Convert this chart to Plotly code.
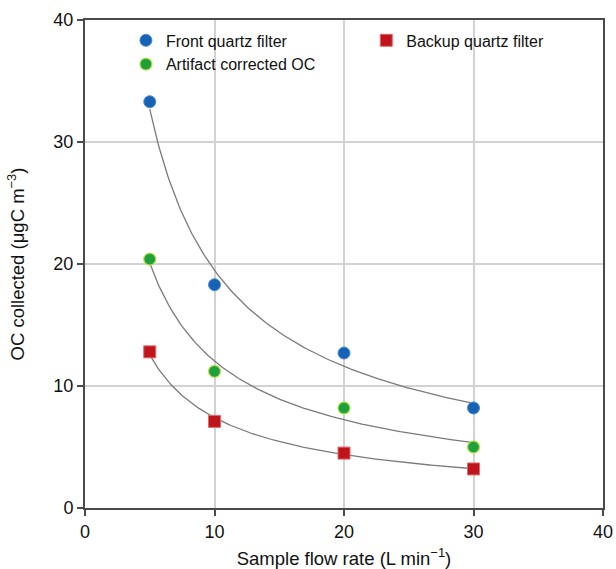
import numpy as np
import plotly.graph_objects as go

flow = [5, 10, 20, 30]
front = [33.3, 18.3, 12.7, 8.2]
artifact = [20.4, 11.2, 8.2, 5.0]
backup = [12.8, 7.1, 4.5, 3.2]
x_ticks = [0, 10, 20, 30, 40]
y_ticks = [0, 10, 20, 30, 40]

FONT = "Liberation Sans, Arial, Helvetica, sans-serif"

def power_fit(x, y):
    b, lna = np.polyfit(np.log(x), np.log(y), 1)
    xs = np.linspace(min(x), max(x), 200)
    return xs, np.exp(lna) * xs ** b

fig = go.Figure()
for ys in (front, artifact, backup):
    xs, yf = power_fit(flow, ys)
    fig.add_trace(go.Scatter(x=xs, y=yf, mode="lines", line=dict(color="#7a7a7a", width=1.3),
                             showlegend=False, hoverinfo="skip"))

fig.add_trace(go.Scatter(x=flow, y=front, mode="markers", name="Front quartz filter",
                         marker=dict(symbol="circle", size=12, color="#1662b4",
                                     line=dict(color="#4a8ad0", width=1)),
                         legend="legend"))
fig.add_trace(go.Scatter(x=flow, y=artifact, mode="markers", name="Artifact corrected OC",
                         marker=dict(symbol="circle", size=12, color="#1ea03c",
                                     line=dict(color="#b8e04a", width=1.2)),
                         legend="legend"))
fig.add_trace(go.Scatter(x=flow, y=backup, mode="markers", name="Backup quartz filter",
                         marker=dict(symbol="square", size=12, color="#c0141c",
                                     line=dict(color="#e06a6a", width=1)),
                         legend="legend2"))

axis_common = dict(
    showgrid=True, gridcolor="#d2d2d2", gridwidth=1.5,
    showline=True, linecolor="#4a4a4a", linewidth=2, mirror=True,
    ticks="outside", ticklen=6, tickcolor="#4a4a4a", tickwidth=1.5,
    zeroline=False, automargin=False,
    tickfont=dict(size=18, color="#111111", family=FONT),
)

fig.update_layout(
    width=616, height=569,
    margin=dict(l=85, r=13, t=20, b=61),
    paper_bgcolor="white", plot_bgcolor="white",
    font=dict(family=FONT, color="#111111"),
    xaxis=dict(range=[0, 40], tickvals=x_ticks,
               title=dict(text="Sample flow rate (L min<sup>−1</sup>)", font=dict(size=18.5), standoff=13),
               **axis_common),
    yaxis=dict(range=[0, 40], tickvals=y_ticks,
               title=dict(text="OC collected (μgC m<sup>−3</sup>)", font=dict(size=18.5), standoff=24),
               **axis_common),
    legend=dict(x=0.079, y=0.993, xanchor="left", yanchor="top", bgcolor="rgba(0,0,0,0)",
                font=dict(size=16, family=FONT), itemwidth=30, tracegroupgap=0),
    legend2=dict(x=0.543, y=0.993, xanchor="left", yanchor="top", bgcolor="rgba(0,0,0,0)",
                 font=dict(size=16, family=FONT), itemwidth=30),
)

fig.write_html("out.html", config={"displayModeBar": False},
               post_script="document.body.style.margin='0';document.body.style.overflow='hidden';")
